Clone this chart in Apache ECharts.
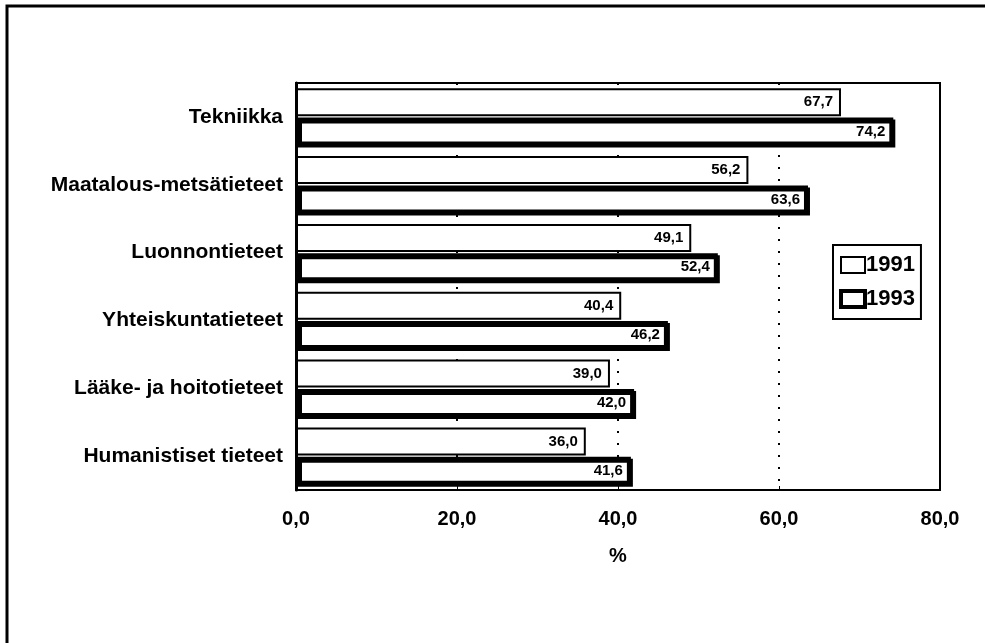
<!DOCTYPE html>
<html>
<head>
<meta charset="utf-8">
<script src="https://cdn.jsdelivr.net/npm/echarts@6/dist/echarts.min.js"></script>
<style>
  html, body { margin: 0; padding: 0; background: #fff; }
  #main { width: 985px; height: 643px; }
</style>
</head>
<body>
<div id="main"></div>
<script>
// categories top to bottom
const categories = [
    'Tekniikka',
    'Maatalous-metsätieteet',
    'Luonnontieteet',
    'Yhteiskuntatieteet',
    'Lääke- ja hoitotieteet',
    'Humanistiset tieteet'
];
const values1991 = [67.7, 56.2, 49.1, 40.4, 39.0, 36.0];
const values1993 = [74.2, 63.6, 52.4, 46.2, 42.0, 41.6];
const xTicks = [0, 20, 40, 60, 80];

const font = "'Liberation Sans', Arial, sans-serif";
const fmt = v => v.toFixed(1).replace('.', ',');

var chartDom = document.getElementById('main');
var myChart = echarts.init(chartDom);
var option;

option = {
    animation: false,
    backgroundColor: '#fff',
    textStyle: { fontFamily: font, color: '#000' },
    grid: {
        left: 296,
        right: 45,
        top: 83,
        bottom: 153,
        show: true,
        borderColor: '#000',
        borderWidth: 2,
        backgroundColor: 'transparent'
    },
    legend: {
        orient: 'vertical',
        left: 833,
        top: 245,
        padding: [9, 6, 9, 6],
        itemGap: 12,
        itemWidth: 24,
        itemHeight: 16,
        icon: 'rect',
        borderColor: '#000',
        borderWidth: 2,
        backgroundColor: '#fff',
        textStyle: { fontFamily: font, fontSize: 22, fontWeight: 'bold', color: '#000', padding: [0, 0, 0, -4] },
        data: [
            { name: '1991', itemStyle: { color: '#fff', borderColor: '#000', borderWidth: 2 } },
            { name: '1993', itemStyle: { color: '#fff', borderColor: '#000', borderWidth: 4 } }
        ]
    },
    xAxis: {
        type: 'value',
        min: xTicks[0],
        max: xTicks[xTicks.length - 1],
        interval: 20,
        name: '%',
        nameLocation: 'middle',
        nameGap: 56,
        nameTextStyle: { fontFamily: font, fontSize: 20, fontWeight: 'bold', color: '#000' },
        axisLine: { show: true, lineStyle: { color: '#000', width: 2 } },
        axisTick: { show: true, inside: true, length: 4, lineStyle: { color: '#000' } },
        axisLabel: {
            fontFamily: font, fontSize: 20, fontWeight: 'bold', color: '#000', margin: 19,
            formatter: v => fmt(v)
        },
        splitLine: {
            show: true,
            lineStyle: { color: '#000', type: [2, 10], width: 2 }
        }
    },
    yAxis: {
        type: 'category',
        inverse: true,
        data: categories,
        axisLine: { show: true, lineStyle: { color: '#000', width: 3 } },
        axisTick: { show: false },
        axisLabel: { fontFamily: font, fontSize: 21, fontWeight: 'bold', color: '#000', margin: 13 }
    },
    series: [
        {
            name: '1991',
            type: 'bar',
            barWidth: 28,
            barGap: '5%',
            itemStyle: { color: '#fff', borderColor: '#000', borderWidth: 2 },
            label: {
                show: true,
                position: 'insideRight',
                distance: 8,
                fontFamily: font, fontSize: 15, fontWeight: 'bold', color: '#000',
                formatter: p => fmt(p.value)
            },
            data: values1991
        },
        {
            name: '1993',
            type: 'bar',
            barWidth: 28,
            barGap: '5%',
            itemStyle: {
                color: '#fff', borderColor: '#000', borderWidth: 4,
                shadowColor: '#000', shadowOffsetX: 2, shadowOffsetY: 2, shadowBlur: 0
            },
            label: {
                show: true,
                position: 'insideRight',
                distance: 8,
                fontFamily: font, fontSize: 15, fontWeight: 'bold', color: '#000',
                formatter: p => fmt(p.value)
            },
            data: values1993
        }
    ],
    graphic: [
        {
            type: 'polyline',
            shape: { points: [[7, 643], [7, 6], [985, 6]] },
            style: { stroke: '#000', lineWidth: 3, fill: null }
        }
    ]
};
option && myChart.setOption(option);
</script>
</body>
</html>
